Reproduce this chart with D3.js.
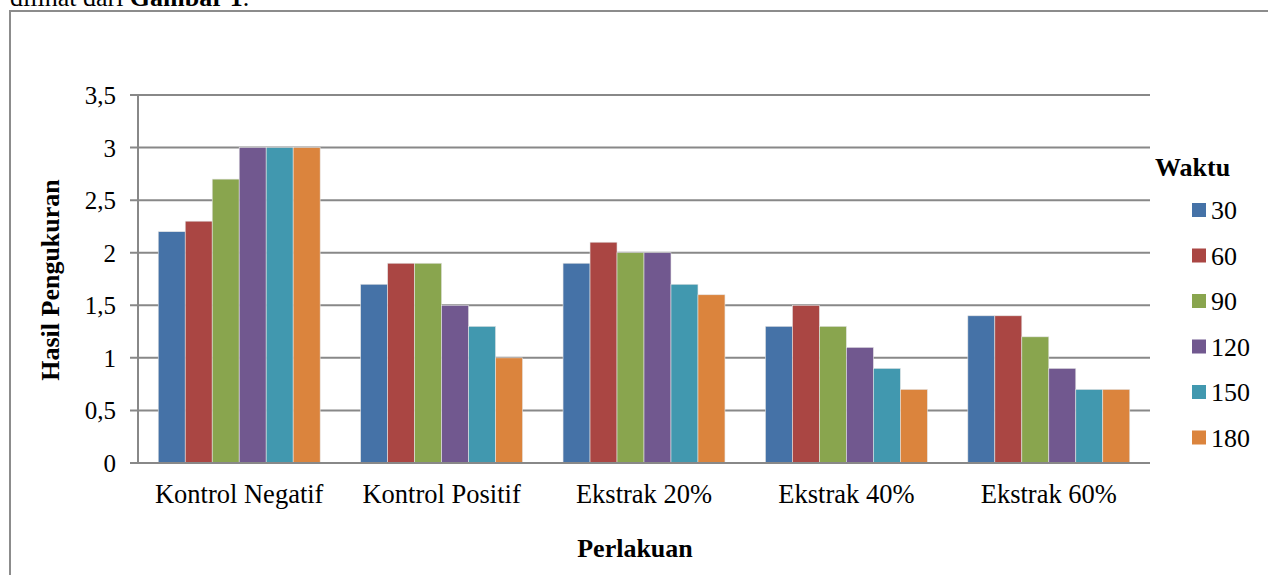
<!DOCTYPE html>
<html>
<head>
<meta charset="utf-8">
<script src="https://cdn.jsdelivr.net/npm/d3@7"></script>
<style>
  body { margin: 0; background: #fff; }
  svg { display: block; font-family: "Liberation Serif", "Times New Roman", serif; }
</style>
</head>
<body>
<svg id="chart" width="1268" height="575"></svg>
<script>
// categories on the x axis
const categories = ["Kontrol Negatif", "Kontrol Positif", "Ekstrak 20%", "Ekstrak 40%", "Ekstrak 60%"];
// series (Waktu)
const seriesNames = ["30", "60", "90", "120", "150", "180"];
const seriesColors = ["#4572A7", "#AA4643", "#89A54E", "#71588F", "#4198AF", "#DB843D"];
// values per series, one per category
const v30 = [2.2, 1.7, 1.9, 1.3, 1.4];
const v60 = [2.3, 1.9, 2.1, 1.5, 1.4];
const v90 = [2.7, 1.9, 2.0, 1.3, 1.2];
const v120 = [3.0, 1.5, 2.0, 1.1, 0.9];
const v150 = [3.0, 1.3, 1.7, 0.9, 0.7];
const v180 = [3.0, 1.0, 1.6, 0.7, 0.7];
const yTicks = [0, 0.5, 1, 1.5, 2, 2.5, 3, 3.5];

const seriesValues = [v30, v60, v90, v120, v150, v180];

const svg = d3.select("#chart");

// cut-off paragraph text above the figure
svg.append("text")
  .attr("x", 10).attr("y", 6)
  .style("font-size", "26px")
  .html('dilihat dari <tspan font-weight="bold">Gambar 1</tspan>.');

// frame around the figure
svg.append("rect")
  .attr("x", 10).attr("y", 11)
  .attr("width", 1270).attr("height", 600)
  .attr("fill", "none")
  .attr("stroke", "#8c8c8c")
  .attr("stroke-width", 2);

const plotL = 138, plotR = 1150, plotT = 95, plotB = 463;

const x = d3.scaleBand().domain(categories).range([plotL, plotR]).paddingInner(0).paddingOuter(0);
const xs = d3.scaleBand().domain(seriesNames).range([0, x.bandwidth()]).paddingOuter(0.75).paddingInner(0);
const y = d3.scaleLinear().domain([0, 3.5]).range([plotB, plotT]);

// gridlines
svg.append("g")
  .selectAll("line")
  .data(yTicks)
  .join("line")
  .attr("x1", plotL - 8).attr("x2", plotR)
  .attr("y1", d => y(d)).attr("y2", d => y(d))
  .attr("stroke", "#888")
  .attr("stroke-width", 2);

// y axis line
svg.append("line")
  .attr("x1", plotL).attr("x2", plotL)
  .attr("y1", plotT).attr("y2", plotB)
  .attr("stroke", "#888").attr("stroke-width", 2);

// y tick labels
svg.append("g")
  .selectAll("text")
  .data(yTicks)
  .join("text")
  .attr("x", 116)
  .attr("y", d => y(d) + 9)
  .attr("text-anchor", "end")
  .style("font-size", "25px")
  .text(d => String(d).replace(".", ","));

// bars
const bars = [];
seriesValues.forEach((vals, si) => {
  vals.forEach((v, ci) => bars.push({ cat: categories[ci], s: seriesNames[si], v: v, c: seriesColors[si] }));
});
svg.append("g")
  .selectAll("rect")
  .data(bars)
  .join("rect")
  .attr("x", d => x(d.cat) + xs(d.s))
  .attr("y", d => y(d.v))
  .attr("width", xs.bandwidth())
  .attr("height", d => y(0) - y(d.v))
  .attr("fill", d => d.c)
  .attr("stroke", "#e4e4e4")
  .attr("stroke-width", 0.6);

// x axis base line on top of bars
svg.append("line")
  .attr("x1", plotL - 8).attr("x2", plotR)
  .attr("y1", y(0)).attr("y2", y(0))
  .attr("stroke", "#888").attr("stroke-width", 2);

// category labels
svg.append("g")
  .selectAll("text")
  .data(categories)
  .join("text")
  .attr("x", d => x(d) + x.bandwidth() / 2)
  .attr("y", 503)
  .attr("text-anchor", "middle")
  .style("font-size", "26.5px")
  .text(d => d);

// axis titles
svg.append("text")
  .attr("x", 635).attr("y", 557)
  .attr("text-anchor", "middle")
  .style("font-size", "26px").style("font-weight", "bold")
  .text("Perlakuan");

svg.append("text")
  .attr("transform", "translate(59,280) rotate(-90)")
  .attr("text-anchor", "middle")
  .style("font-size", "26px").style("font-weight", "bold")
  .text("Hasil Pengukuran");

// legend
svg.append("text")
  .attr("x", 1155).attr("y", 176)
  .style("font-size", "26px").style("font-weight", "bold")
  .text("Waktu");

const legend = svg.append("g")
  .selectAll("g")
  .data(seriesNames)
  .join("g")
  .attr("transform", (d, i) => "translate(1192," + (203 + i * 45.5) + ")");
legend.append("rect")
  .attr("width", 14).attr("height", 14)
  .attr("fill", (d, i) => seriesColors[i]);
legend.append("text")
  .attr("x", 19).attr("y", 16)
  .style("font-size", "26px")
  .text(d => d);
</script>
</body>
</html>
